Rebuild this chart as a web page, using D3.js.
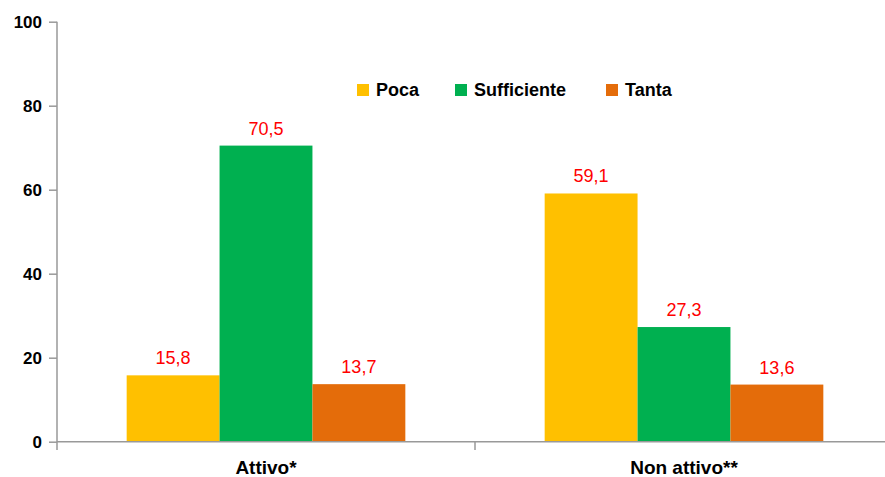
<!DOCTYPE html>
<html><head><meta charset="utf-8">
<script src="https://cdn.jsdelivr.net/npm/d3@7"></script>
<style>body{margin:0;background:#fff}svg{display:block}text{font-family:"Liberation Sans",Arial,sans-serif}</style>
</head><body>
<script>
const categories = ["Attivo*", "Non attivo**"];
const seriesNames = ["Poca", "Sufficiente", "Tanta"];
const poca = [15.8, 59.1];
const sufficiente = [70.5, 27.3];
const tanta = [13.7, 13.6];
const yTicks = [0, 20, 40, 60, 80, 100];
const colors = ["#FFC000", "#00B050", "#E46C0A"];

const W = 885, H = 477;
const svg = d3.select("body").append("svg").attr("width", W).attr("height", H);
const x0 = d3.scaleBand().domain(categories).range([57, 893]).paddingInner(0).paddingOuter(0);
const x1 = d3.scaleBand().domain(seriesNames).range([0, x0.bandwidth()]).paddingInner(0).paddingOuter(0.75);
const y = d3.scaleLinear().domain([0, 100]).range([441.7, 21.7]);
const values = [poca, sufficiente, tanta];
const fmt = v => v.toFixed(1).replace(".", ",");

const g = svg.append("g");
categories.forEach((c, ci) => {
  seriesNames.forEach((s, si) => {
    const v = values[si][ci];
    g.append("rect").attr("x", x0(c) + x1(s)).attr("width", x1.bandwidth())
      .attr("y", y(v)).attr("height", y(0) - y(v)).attr("fill", colors[si]);
    g.append("text").attr("x", x0(c) + x1(s) + x1.bandwidth() / 2).attr("y", y(v) - 11)
      .attr("text-anchor", "middle").attr("fill", "#FF0000").attr("font-size", 18).text(fmt(v));
  });
});

const axisColor = "#999";
const ya = svg.append("g").attr("transform", "translate(57,0)")
  .call(d3.axisLeft(y).tickValues(yTicks).tickSize(8).tickPadding(7).tickFormat(d3.format("d")));
ya.select(".domain").remove();
ya.selectAll(".tick line").attr("stroke", axisColor).attr("stroke-width", 1.5);
ya.selectAll(".tick text").attr("font-size", 17).attr("font-weight", "bold").attr("fill", "#000")
  .style("font-family", "'Liberation Sans',Arial,sans-serif");
svg.append("line").attr("x1", 57).attr("x2", 57).attr("y1", y(100)).attr("y2", 450).attr("stroke", axisColor).attr("stroke-width", 1.5);
svg.append("line").attr("x1", 57).attr("x2", 893).attr("y1", y(0)).attr("y2", y(0)).attr("stroke", axisColor).attr("stroke-width", 1.5);
svg.append("line").attr("x1", x0(categories[1])).attr("x2", x0(categories[1])).attr("y1", y(0)).attr("y2", 450).attr("stroke", axisColor).attr("stroke-width", 1.5);
categories.forEach(c => {
  svg.append("text").attr("x", x0(c) + x0.bandwidth() / 2).attr("y", 474)
    .attr("text-anchor", "middle").attr("font-size", 19).attr("font-weight", "bold").text(c);
});

const legX = [357, 455, 606];
seriesNames.forEach((s, i) => {
  svg.append("rect").attr("x", legX[i]).attr("y", 84).attr("width", 12).attr("height", 12).attr("fill", colors[i]);
  svg.append("text").attr("x", legX[i] + 19).attr("y", 96).attr("font-size", 18).attr("font-weight", "bold").text(s);
});
</script>
</body></html>
